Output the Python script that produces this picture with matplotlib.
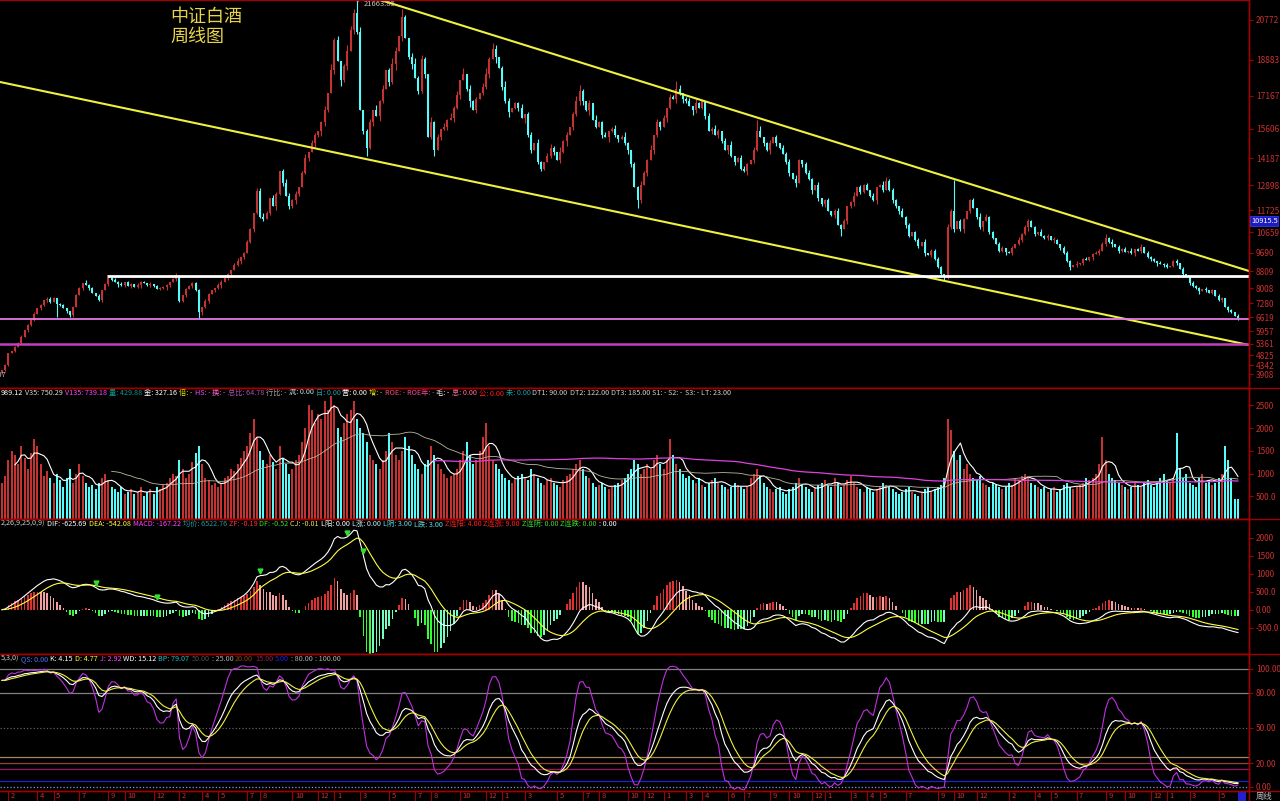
import numpy as np
import pandas as pd
import matplotlib
matplotlib.use("Agg")
import matplotlib.pyplot as plt
from matplotlib.lines import Line2D
from matplotlib.patches import Rectangle

plt.rcParams["font.family"] = ["Noto Sans CJK SC", "DejaVu Sans"]
plt.rcParams["axes.unicode_minus"] = False

TITLE = "中证白酒\n周线图"

# weekly closes, Jan 2019 .. 2026
CLOSE = [
    4100, 4350, 4900, 5000, 5200, 5400, 5700, 6000, 6250, 6500,
    6800, 7050, 7200, 7450, 7500, 7350, 7550, 7250, 7200, 7050,
    6900, 6750, 7100, 7700, 8000, 8250, 8150, 8000, 7800, 7650,
    7450, 7900, 8200, 8500, 8400, 8300, 8200, 8150, 8300, 8100,
    8200, 8050, 8150, 8300, 8250, 8150, 8200, 8100, 7950, 8000,
    8050, 8150, 8300, 8450, 8550, 7400, 7700, 7950, 8100, 8250,
    7900, 6850, 7100, 7400, 7750, 7900, 8000, 8150, 8300, 8500,
    8700, 8850, 9100, 9300, 9500, 9700, 10200, 10800, 11600, 12650,
    11400, 11300, 11600, 12300, 11900, 12500, 13600, 13000, 12400, 11900,
    12200, 12500, 12800, 13500, 14200, 14500, 14900, 15300, 15500, 15900,
    16500, 17300, 18400, 19800, 18800, 17900, 18600, 19300, 20300, 21100,
    20200, 16500, 15500, 14700, 15900, 16500, 16200, 16900, 17500, 18400,
    17800, 18700, 19300, 20000, 20900, 19900, 19000, 18700, 18000, 17400,
    18900, 18200, 15200, 15900, 14600, 15200, 15600, 15700, 16000, 16100,
    16600, 17200, 17900, 18200, 17500, 16900, 16500, 17000, 17300, 17600,
    18200, 18900, 19400, 19000, 18500, 17600, 16900, 16400, 16600, 16800,
    16600, 16100, 16300, 15300, 14600, 14900, 14000, 13700, 14000, 14300,
    14700, 14500, 14100, 14500, 15000, 15300, 15700, 16300, 16900, 17400,
    16900, 16500, 16800, 16000, 15700, 15900, 15300, 15200, 15500, 15600,
    15300, 15100, 15200, 14900, 14600, 13900, 12800, 12200, 12900, 13500,
    14100, 14600, 15300, 15900, 15700, 16100, 16600, 17100, 17000, 17500,
    17300, 17000, 16900, 16700, 16500, 16800, 16600, 16900, 16200, 15500,
    15600, 15300, 15500, 15000, 14600, 14800, 14300, 14000, 14200, 13700,
    13600, 13900, 14100, 14600, 15500, 15200, 14900, 14600, 14900, 15200,
    14900, 14700, 14400, 14000, 13500, 13200, 13000, 14100, 13900, 13500,
    13200, 12700, 12900, 12300, 12000, 12200, 11700, 11500, 11700, 11000,
    10800, 11200, 11900, 12100, 12400, 12800, 12600, 12900, 12700, 12400,
    12200, 12800, 12900, 12700, 13100, 12700, 12200, 11900, 11700, 11400,
    11000, 10500, 10700, 10300, 10000, 10200, 9700, 9600, 9800, 9400,
    9000, 8700, 8550, 10900, 11700, 10800, 11200, 10800, 11300, 11700,
    12200, 11800, 11400, 10900, 11200, 11400, 10700, 10400, 10100, 9800,
    9900, 9750, 9700, 9900, 10100, 10300, 10600, 10900, 11200, 10900,
    10600, 10700, 10500, 10400, 10500, 10300, 10300, 10100, 9900, 9700,
    9300, 9000, 9100, 9150, 9200, 9400, 9350, 9500, 9650, 9700,
    9800, 10100, 10400, 10200, 10100, 9950, 9800, 9850, 9750, 9800,
    9700, 9850, 9800, 9950, 9700, 9500, 9400, 9300, 9200, 9150,
    9100, 9000, 9050, 9300, 9200, 8900, 8700, 8550, 8250, 8100,
    8000, 7850, 7950, 7900, 7800, 7900, 7650, 7450, 7550, 7100,
    6950, 6850, 6700, 6600,
]
FIRST_OPEN = 3950

# shadow lengths per week, in half-percent steps of the close
UP_WICK = ("1201312021" "2110231012" "1021203110" "2011021301" "1021102012"
           "2101320211" "1202110321" "1023012102" "2310210132" "1201302101"
           "2031201320" "2301203120" "1320210231" "2103120213" "1203021102"
           "3102013201" "1201203102" "2103120131" "1020311201" "2013102131"
           "1302120213" "2012031102" "1210203012" "2102130120" "1021203102"
           "2103012012" "1201302120" "2013021102" "1201203012" "2103140210"
           "1203021102" "2012031201" "1021203102" "2103012012" "1201302120"
           "2013021102" "1201203012" "2103120210" "1202")
DN_WICK = ("2110202131" "1021310210" "2130120201" "1202103120" "2013012101"
           "1320211302" "1031202130" "2101320121" "1202031202" "1320120213"
           "2102031202" "1023120310" "2130201302" "1201302120" "2120130201"
           "1203021301" "2031201210" "1202130212" "2130102031" "1201320120"
           "2031202102" "1210320120" "2021031201" "1302102130" "2101203021"
           "1302120130" "2021302101" "1302012130" "2101203021" "1302120130"
           "2021302101" "1302012130" "2101203021" "1302120130" "2021302101"
           "1302012130" "2101203021" "1302120130" "2101")

# visible long shadows
HIGH_EXT = {54: 8730, 109: 21300, 110: 21663.85, 124: 21300, 152: 19700,
            179: 17700, 209: 17850, 234: 16000, 274: 13300, 295: 13160,
            318: 11300, 342: 10600}
LOW_EXT = {17: 6620, 21: 6650, 61: 6600, 113: 14300, 134: 14300,
           197: 11800, 260: 10500, 292: 8400, 383: 6500}

VOLUME = [
    800, 950, 1300, 1500, 1400, 1200, 1600, 1350, 1100, 1450,
    1750, 1600, 1200, 950, 1050, 900, 800, 1000, 850, 700,
    900, 1100, 800, 1000, 1200, 950, 800, 700, 750, 650,
    800, 900, 1000, 850, 700, 650, 600, 700, 550, 600,
    650, 550, 600, 700, 500, 600, 650, 550, 700, 650,
    750, 800, 900, 1000, 950, 1300, 1100, 900, 1000, 1250,
    1450, 1600, 1200, 900, 850, 750, 800, 700, 800, 900,
    950, 1100, 1050, 1200, 1350, 1500, 1600, 1900, 2200, 1800,
    1500, 1300, 1200, 1400, 1250, 1100, 1600, 1350, 1200, 1000,
    1100, 1300, 1400, 1700, 2000, 2500, 2400, 2100, 2300, 2200,
    2600, 2400, 2700, 2500, 2000, 1800, 2100, 2300, 2400, 2600,
    2200, 2000, 1900, 1700, 1400, 1300, 1200, 1100, 1300, 1500,
    1900, 1700, 1400, 1300, 1500, 1800, 1600, 1400, 1200, 1100,
    1000, 1200, 1300, 1600, 1400, 1200, 1100, 1000, 900, 950,
    1000, 1100, 1300, 1500, 1700, 1400, 1200, 1300, 1500, 1800,
    2100, 1600, 1300, 1200, 1100, 1000, 900, 850, 800, 900,
    950, 1000, 900, 850, 1100, 1000, 900, 800, 750, 850,
    900, 800, 750, 700, 850, 950, 1000, 1100, 1200, 1300,
    1100, 950, 900, 800, 700, 750, 800, 700, 650, 700,
    750, 800, 850, 900, 1000, 1100, 1300, 1200, 1000, 1100,
    1200, 1100, 1300, 1400, 1200, 1100, 1300, 1750, 1400, 1200,
    1100, 1000, 900, 950, 850, 800, 900, 750, 700, 800,
    850, 900, 800, 750, 700, 650, 700, 800, 750, 700,
    650, 700, 900, 1000, 1100, 950, 800, 700, 650, 600,
    650, 700, 600, 550, 650, 700, 800, 900, 750, 700,
    650, 600, 700, 750, 800, 850, 750, 700, 900, 800,
    700, 750, 850, 950, 800, 700, 650, 600, 700, 650,
    600, 650, 700, 800, 750, 700, 650, 600, 550, 600,
    650, 700, 600, 550, 500, 600, 650, 700, 600, 650,
    700, 750, 900, 2200, 1950, 1500, 1300, 1400, 1100, 1200,
    1000, 900, 850, 950, 800, 750, 700, 800, 750, 700,
    650, 700, 800, 750, 900, 850, 950, 1000, 900, 800,
    750, 700, 650, 700, 600, 650, 700, 600, 650, 750,
    800, 700, 650, 700, 750, 800, 900, 850, 900, 1000,
    1200, 1800, 1300, 1000, 900, 850, 800, 750, 700, 650,
    700, 800, 750, 700, 800, 850, 750, 700, 800, 900,
    1000, 850, 800, 900, 1900, 1100, 900, 1000, 800, 750,
    700, 900, 1000, 800, 850, 750, 800, 900, 1000, 1600,
    1300, 900, 430, 450,
]

PRICE_TICKS = [20772, 18883, 17167, 15606, 14187, 12898, 11725, 10659, 9690,
               8809, 8008, 7280, 6619, 5957, 5361, 4825, 4342, 3908]
VOL_TICKS = [500, 1000, 1500, 2000, 2500]
VOL_LABELS = ["500.0", "1000", "1500", "2000", "2500"]
MACD_TICKS = [-500, 0, 500, 1000, 1500, 2000]
MACD_LABELS = ["-500.0", "0.00", "500.0", "1000", "1500", "2000"]
KDJ_TICKS = [0, 20, 50, 80, 100]
KDJ_LABELS = ["0.00", "20.00", "50.00", "80.00", "100.00"]

MONTH_TEXT = ["2", "4", "5", "7", "9", "10", "12",
              "2", "4", "5", "7", "8", "10", "12",
              "1", "3", "5", "7", "8", "10", "12",
              "1", "3", "5", "7", "8", "10", "12",
              "1", "3", "4", "6", "7", "9", "10", "12",
              "1", "3", "4", "5", "7", "9", "10", "12",
              "2", "4", "5", "7", "9", "10", "12",
              "1", "3", "5"]
MONTH_POS = [2, 11, 16, 24, 33, 38, 47,
             55, 62, 67, 76, 80, 90, 98,
             103, 111, 120, 128, 133, 142, 150,
             155, 162, 172, 180, 185, 194, 199,
             205, 212, 217, 225, 230, 238, 244, 251,
             255, 263, 268, 272, 280, 290, 295, 302,
             312, 320, 325, 333, 342, 348, 356,
             361, 368, 377]

# drawn lines on the price panel (week index, price)
UPPER_TREND = [(125.2, 21343), (386.4, 8825)]
LOWER_TREND = [(-0.6, 17821), (386.4, 5302)]
WHITE_LEVEL = 8600
WHITE_START = 32.5
PINK_LEVELS = [6540, 5350]
MACD_ARROWS = [29, 48, 80, 107, 112]
CURSOR_VALUE = 10915.5

VOL_HEAD = [("989.12", "#ffffff"), ("V35: 750.29", "#d8d8d8"), ("V135: 739.18", "#ff44ff"),
            ("量: 429.88", "#0a9a8a"), ("金: 327.16", "#ffffff"), ("倍: -", "#e8e000"),
            ("HS: -", "#ff44ff"), ("换: -", "#ff6ac8"), ("总比: 64.78", "#b050b0"),
            ("行比: -", "#a0a0a0"), ("流: 0.00", "#bfe8e8"), ("日: 0.00", "#1aa0a0"),
            ("营: 0.00", "#ffffff"), ("增: -", "#e8e000"), ("ROE: -", "#ff4a7a"),
            ("ROE年: -", "#ff4a9a"), ("毛: -", "#ffffff"), ("息: 0.00", "#ff70a0"),
            ("公: 0.00", "#ff2020"), ("未: 0.00", "#1aa0a0"), ("DT1: 90.00", "#d0d0d0"),
            ("DT2: 122.00", "#d0d0d0"), ("DT3: 185.00", "#d0d0d0"), ("S1: -", "#d0d0d0"),
            ("S2: -", "#d0d0d0"), ("S3: -", "#d0d0d0"), ("LT: 23.00", "#d0d0d0")]
MACD_HEAD = [("2,26,9,25,0,9)", "#d0d0d0"), ("DIF: -625.69", "#ffffff"), ("DEA: -542.08", "#ffff40"),
             ("MACD: -167.22", "#ff44ff"), ("均价: 6522.76", "#1a9a9a"), ("ZF: -0.19", "#ff3030"),
             ("DF: -0.52", "#30e030"), ("CJ: -0.01", "#e8e060"), ("L阳: 0.00", "#ffffff"),
             ("L涨: 0.00", "#c0f0f0"), ("L阴: 3.00", "#60e0e0"), ("L跌: 3.00", "#60e0e0"),
             ("Z连阳: 4.00", "#ff2020"), ("Z连涨: 9.00", "#ff2020"), ("Z连阴: 0.00", "#30e030"),
             ("Z连跌: 0.00", "#30e030"), (": 0.00", "#ffffff")]
KDJ_HEAD = [("5,3,0)", "#d0d0d0"), ("QS: 0.00", "#5070ff"), ("K: 4.15", "#ffffff"),
            ("D: 4.77", "#ffff40"), ("J: 2.92", "#ff44ff"), ("WD: 15.12", "#ffffff"),
            ("BP: 79.07", "#20c0c0"), ("50.00", "#505050"), (": 25.00", "#b0b0b0"),
            ("20.00", "#904020"), ("15.00", "#902050"), ("5.00", "#2020e0"),
            (": 80.00", "#b0b0b0"), (": 100.00", "#b0b0b0")]

W, H = 1280, 801
X0_PX, DX_PX = 2.0, 3.227
RIGHT_PX = 1249
RED = "#c43232"
CYAN = "#54fcfc"
FRAME = "#a00000"
AXTXT = "#c83030"
HEAD_FS = 5.2


def idx(px):
    return (px - X0_PX) / DX_PX


close = np.array(CLOSE, dtype=float)
n = len(close)
x = np.arange(n)
opn = np.r_[FIRST_OPEN, close[:-1]]
uw = np.array([int(c) for c in UP_WICK[:n]]) * 0.005
dw = np.array([int(c) for c in DN_WICK[:n]]) * 0.005
high = np.maximum(opn, close) + close * uw
low = np.minimum(opn, close) - close * dw
for k, v in HIGH_EXT.items():
    high[k] = max(high[k], v)
for k, v in LOW_EXT.items():
    low[k] = min(low[k], v)
up = close >= opn
colors = np.where(up, RED, CYAN)
vol = np.array(VOLUME[:n], dtype=float)

fig = plt.figure(figsize=(W / 100, H / 100), dpi=100, facecolor="black")


def panel(top, bottom):
    ax = fig.add_axes([0, 1 - bottom / H, RIGHT_PX / W, (bottom - top) / H])
    ax.set_facecolor("black")
    ax.set_xlim(idx(0), idx(RIGHT_PX))
    for s in ax.spines.values():
        s.set_color(FRAME)
        s.set_linewidth(1)
    ax.spines["left"].set_visible(False)
    ax.set_xticks([])
    ax.yaxis.tick_right()
    ax.tick_params(axis="y", colors=FRAME, labelcolor=AXTXT, labelsize=6,
                   length=3, width=0.8, pad=2)
    return ax


def header(ax, parts, dy=-5):
    prev = None
    for s, c in parts:
        if prev is None:
            prev = ax.annotate(s, xy=(0, 1), xycoords="axes fraction", xytext=(1, dy),
                               textcoords="offset pixels", color=c, fontsize=HEAD_FS,
                               va="center", ha="left")
        else:
            prev = ax.annotate(s, xy=(1, 0.5), xycoords=prev, xytext=(2, 0),
                               textcoords="offset pixels", color=c, fontsize=HEAD_FS,
                               va="center", ha="left")


# ---- price panel
ax_p = panel(0, 388)
ax_p.set_ylim(3255, 21724)
ax_p.vlines(x, low, high, colors=colors, lw=0.8)
body = np.maximum(np.abs(close - opn), 30)
ax_p.bar(x, body, bottom=np.minimum(opn, close), width=0.62, color=colors, linewidth=0)
ax_p.set_yticks(PRICE_TICKS)
ax_p.set_yticklabels([str(t) for t in PRICE_TICKS])
ax_p.axline(UPPER_TREND[0], UPPER_TREND[1], color="#f0f040", lw=1.5)
ax_p.axline(LOWER_TREND[0], LOWER_TREND[1], color="#f0f040", lw=1.5)
ax_p.hlines(WHITE_LEVEL, WHITE_START, idx(RIGHT_PX), color="white", lw=2)
ax_p.axhline(PINK_LEVELS[0], color="#e47ae4", lw=1.3)
ax_p.axhline(PINK_LEVELS[1], color="#c040c0", lw=1.8)
top_i = int(np.argmax(high))
ax_p.annotate(f"{high[top_i]:.2f}", xy=(top_i, high[top_i]), xytext=(7, -3),
              textcoords="offset pixels", color="#c0c0c0", fontsize=5.5, va="center",
              arrowprops=dict(arrowstyle="-", color="#c0c0c0", lw=0.6))
ax_p.text(1.3, 3870, "3907", ha="right", va="center", color="#c0c0c0", fontsize=5.5)
fig.text(170 / W, 1 - 8 / H, TITLE, color="#e8d44a", fontsize=13, va="top",
         ha="left", linespacing=1.1)
ax_p.annotate(f"{CURSOR_VALUE}", xy=(1.0, CURSOR_VALUE), xycoords=("axes fraction", "data"),
              xytext=(2, 6), textcoords="offset pixels", color="white", fontsize=5.3,
              va="center", ha="left",
              bbox=dict(boxstyle="square,pad=0.1", fc="#1c1cc0", ec="#4040ff", lw=0.5))

# ---- volume panel
ax_v = panel(388, 519)
ax_v.set_ylim(0, 2880)
ax_v.bar(x, vol, width=0.62, color=colors, linewidth=0)
vs = pd.Series(vol)
ax_v.plot(x, vs.rolling(5).mean(), color="white", lw=0.8)
ax_v.plot(x, vs.rolling(35).mean(), color="#b8b8a0", lw=0.6)
ax_v.plot(x, vs.rolling(135).mean(), color="#e040e0", lw=0.9)
ax_v.set_yticks(VOL_TICKS)
ax_v.set_yticklabels(VOL_LABELS)
header(ax_v, VOL_HEAD)

# ---- MACD panel
ax_m = panel(519, 654)
ax_m.set_ylim(-1236, 2527)
cs = pd.Series(close)
dif = cs.ewm(span=12, adjust=False).mean() - cs.ewm(span=26, adjust=False).mean()
dea = dif.ewm(span=9, adjust=False).mean()
macd = (2 * (dif - dea)).to_numpy()
prev_m = np.r_[0, macd[:-1]]
mcol = np.where(macd >= 0, np.where(macd >= prev_m, "#e03030", "#f0a0a0"),
                np.where(macd <= prev_m, "#30ff30", "#70ffc0"))
ax_m.bar(x, macd, width=0.5, color=mcol, linewidth=0)
ax_m.plot(x, dif, color="white", lw=0.8)
ax_m.plot(x, dea, color="#ffff40", lw=0.8)
ax_m.plot(MACD_ARROWS, dif.to_numpy()[MACD_ARROWS] + 120, "v", color="#30e030", ms=3.5)
ax_m.set_yticks(MACD_TICKS)
ax_m.set_yticklabels(MACD_LABELS)
header(ax_m, MACD_HEAD)

# ---- KDJ panel
ax_k = panel(654, 791)
ax_k.set_ylim(-3.4, 112.7)
N, M1, M2 = 21, 5, 3
hs, ls = pd.Series(high), pd.Series(low)
llv = ls.rolling(N, min_periods=1).min()
hhv = hs.rolling(N, min_periods=1).max()
rsv = (cs - llv) / (hhv - llv) * 100
k = rsv.ewm(alpha=1 / M1, adjust=False).mean()
d = k.ewm(alpha=1 / M2, adjust=False).mean()
j = 3 * k - 2 * d
for lv, c, ls_ in [(100, "#808080", "-"), (80, "#808080", "-"), (50, "#606060", ":"),
                   (25, "#a08860", "-"), (20, "#904040", "-"), (15, "#a01060", "-"),
                   (5, "#2020d0", "-"), (0, "#80a0c0", ":")]:
    ax_k.axhline(lv, color=c, lw=0.9, ls=ls_)
ax_k.plot(x, j, color="#c030e0", lw=0.8)
ax_k.plot(x, k, color="white", lw=0.8)
ax_k.plot(x, d, color="#f0f040", lw=0.8)
ax_k.set_yticks(KDJ_TICKS)
ax_k.set_yticklabels(KDJ_LABELS)
header(ax_k, KDJ_HEAD)

# ---- time strip
ax_t = fig.add_axes([0, 0, RIGHT_PX / W, 10 / H])
ax_t.set_facecolor("black")
ax_t.set_xlim(idx(0), idx(RIGHT_PX))
ax_t.set_ylim(0, 1)
ax_t.axis("off")
for pos, lab in zip(MONTH_POS, MONTH_TEXT):
    ax_t.vlines(pos, 0, 1, color=FRAME, lw=0.8)
    ax_t.text(pos + 0.8, 0.45, lab, color=AXTXT, fontsize=5.5, va="center", ha="left")
fig.patches.append(Rectangle((1238 / W, 0), 8 / W, 9 / H, transform=fig.transFigure,
                             fc="#2020d0", ec="none"))
fig.text(1264 / W, 4.5 / H, "周线", color="#c0c0c0", fontsize=6, ha="center", va="center")

for yy in [388, 519, 654, 791]:
    fig.add_artist(Line2D([0, 1], [1 - yy / H, 1 - yy / H], color=FRAME, lw=1))
fig.add_artist(Line2D([RIGHT_PX / W] * 2, [0, 1], color=FRAME, lw=1))

fig.savefig("out.png", dpi=100, facecolor="black")
